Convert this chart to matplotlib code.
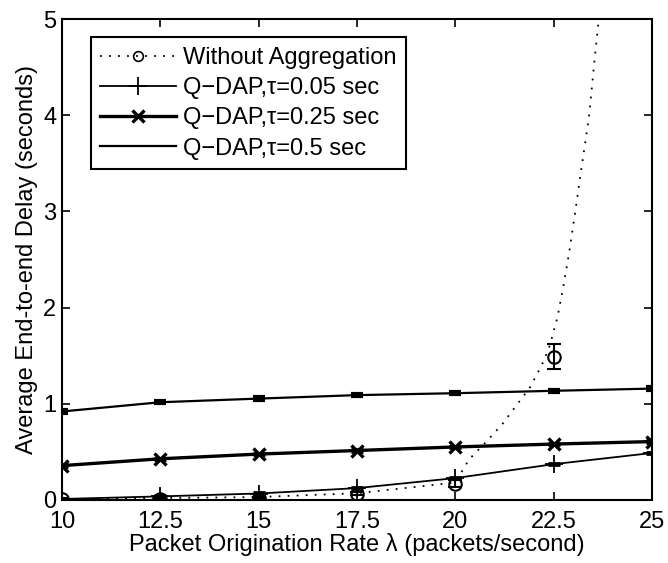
import matplotlib
matplotlib.use("Agg")
import matplotlib.pyplot as plt

plt.rcParams['font.family'] = ['Liberation Sans', 'DejaVu Sans']

rates = [10, 12.5, 15, 17.5, 20, 22.5, 25]

# Without aggregation (simulation points with error bars)
noagg_x = [10, 12.5, 15, 17.5, 20, 22.5]
noagg_y = [0.01, 0.01, 0.02, 0.067, 0.17, 1.49]
noagg_err = [0.01, 0.01, 0.01, 0.02, 0.04, 0.13]
# Without aggregation (dotted curve)
curve_x = [10, 12.5, 15, 17.5, 20, 20.35, 20.8, 21.2, 21.55, 21.9, 22.2, 22.4, 22.6, 22.75, 22.9, 23.05, 23.2, 23.4, 23.55, 23.65, 24.0]
curve_y = [0.01, 0.02, 0.03, 0.07, 0.18, 0.42, 0.61, 0.79, 0.98, 1.17, 1.40, 1.60, 1.90, 2.22, 2.58, 2.99, 3.42, 3.98, 4.6, 5.0, 6.3]

tau005 = [0.01, 0.037, 0.067, 0.123, 0.227, 0.372, 0.488]
tau025 = [0.357, 0.428, 0.477, 0.514, 0.551, 0.581, 0.607]
tau05 = [0.92, 1.016, 1.054, 1.09, 1.11, 1.135, 1.158]
err_small = [0.012, 0.012, 0.012, 0.012, 0.012, 0.012, 0.012]

xticks = [10, 12.5, 15, 17.5, 20, 22.5, 25]
xticklabels = ["10", "12.5", "15", "17.5", "20", "22.5", "25"]
yticks = [0, 1, 2, 3, 4, 5]

fig = plt.figure(figsize=(6.68, 5.63), dpi=100)
ax = fig.add_axes([0.0928, 0.112, 0.883, 0.854])

# Without aggregation
ax.plot(curve_x, curve_y, linestyle=(0, (1, 4)), color='k', lw=1.3)
ax.errorbar(noagg_x, noagg_y, yerr=noagg_err, fmt='none', ecolor='k', elinewidth=1.5, capsize=5, capthick=1.5)
ax.plot(noagg_x, noagg_y, 'o', mfc='none', mec='k', ms=9, mew=1.5)
ax.plot([], [], linestyle=(0, (1, 4)), color='k', lw=1.3, marker='o', mfc='none', mec='k', ms=7, mew=1.2,
        label='Without Aggregation')

# tau = 0.05
ax.errorbar(rates, tau005, yerr=err_small, fmt='none', ecolor='k', elinewidth=1.2, capsize=4, capthick=2)
ax.plot(rates, tau005, '-', color='k', lw=1.3, marker='+', ms=13, mew=1.3, label='Q\u2212DAP,\u03c4=0.05 sec')

# tau = 0.25
ax.errorbar(rates, tau025, yerr=err_small, fmt='none', ecolor='k', elinewidth=1.2, capsize=4, capthick=2)
ax.plot(rates, tau025, '-', color='k', lw=2.4, marker='x', ms=9, mew=2.4, label='Q\u2212DAP,\u03c4=0.25 sec')

# tau = 0.5
ax.errorbar(rates, tau05, yerr=err_small, fmt='none', ecolor='k', elinewidth=1.5, capsize=4.5, capthick=3)
ax.plot(rates, tau05, '-', color='k', lw=1.6, label='Q\u2212DAP,\u03c4=0.5 sec')

ax.set_xlim(10, 25)
ax.set_ylim(0, 5)
ax.set_xticks(xticks)
ax.set_xticklabels(xticklabels)
ax.set_yticks(yticks)
ax.tick_params(direction='in', top=True, right=True, length=6, width=1.2, labelsize=17)
ax.tick_params(axis='x', pad=8)
ax.tick_params(axis='y', pad=4)
for s in ax.spines.values():
    s.set_linewidth(1.5)

ax.set_xlabel('Packet Origination Rate \u03bb (packets/second)', fontsize=17, labelpad=0)
ax.set_ylabel('Average End-to-end Delay (seconds)', fontsize=17, labelpad=4)

leg = ax.legend(loc='upper left', bbox_to_anchor=(0.049, 0.962), fontsize=17, frameon=True, fancybox=False,
                edgecolor='k', framealpha=1, handlelength=3.2, handletextpad=0.3, borderpad=0.4,
                labelspacing=0.35, borderaxespad=0)
leg.get_frame().set_linewidth(1.5)

fig.savefig("out.png", dpi=100)
